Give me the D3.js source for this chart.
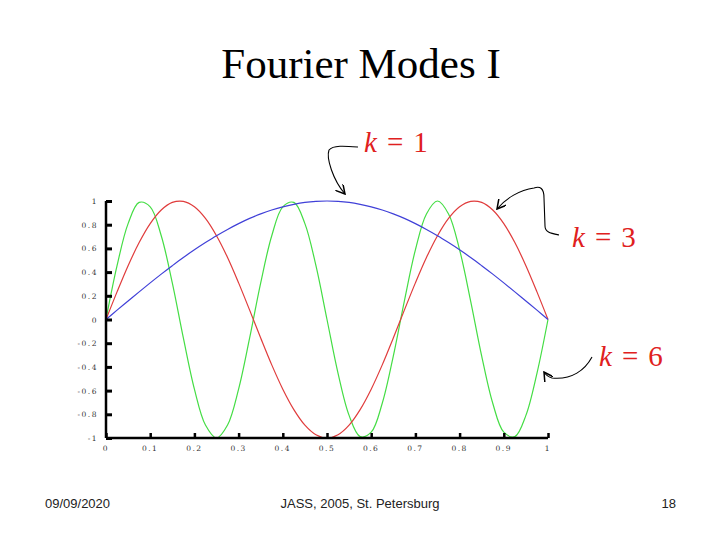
<!DOCTYPE html>
<html>
<head>
<meta charset="utf-8">
<script src="https://cdn.jsdelivr.net/npm/d3@7"></script>
<style>
  body { margin: 0; background: #fff; }
  svg { display: block; }
</style>
</head>
<body>
<svg id="chart" width="720" height="540"></svg>
<script>
// ---- data ----
const xValues = [0, 0.025, 0.05, 0.075, 0.1, 0.125, 0.15, 0.175, 0.2, 0.225, 0.25, 0.275, 0.3, 0.325, 0.35, 0.375, 0.4, 0.425, 0.45, 0.475, 0.5,
  0.525, 0.55, 0.575, 0.6, 0.625, 0.65, 0.675, 0.7, 0.725, 0.75, 0.775, 0.8, 0.825, 0.85, 0.875, 0.9, 0.925, 0.95, 0.975, 1];
const k1Values = [0, 0.079, 0.156, 0.233, 0.309, 0.383, 0.454, 0.523, 0.588, 0.649, 0.707, 0.760, 0.809, 0.853, 0.891, 0.924, 0.951, 0.972, 0.988, 0.997, 1,
  0.997, 0.988, 0.972, 0.951, 0.924, 0.891, 0.853, 0.809, 0.760, 0.707, 0.649, 0.588, 0.523, 0.454, 0.383, 0.309, 0.233, 0.156, 0.079, 0];
const k3Values = [0, 0.233, 0.454, 0.649, 0.809, 0.924, 0.988, 0.997, 0.951, 0.853, 0.707, 0.523, 0.309, 0.079, -0.156, -0.383, -0.588, -0.760, -0.891, -0.972, -1,
  -0.972, -0.891, -0.760, -0.588, -0.383, -0.156, 0.079, 0.309, 0.523, 0.707, 0.853, 0.951, 0.997, 0.988, 0.924, 0.809, 0.649, 0.454, 0.233, 0];
const k6Values = [0, 0.454, 0.809, 0.988, 0.951, 0.707, 0.309, -0.156, -0.588, -0.891, -1, -0.891, -0.588, -0.156, 0.309, 0.707, 0.951, 0.988, 0.809, 0.454, 0,
  -0.454, -0.809, -0.988, -0.951, -0.707, -0.309, 0.156, 0.588, 0.891, 1, 0.891, 0.588, 0.156, -0.309, -0.707, -0.951, -0.988, -0.809, -0.454, 0];
const seriesNames = ["k = 1", "k = 3", "k = 6"];
const xTicks = [0, 0.1, 0.2, 0.3, 0.4, 0.5, 0.6, 0.7, 0.8, 0.9, 1];
const xTickLabels = ["0", "0.1", "0.2", "0.3", "0.4", "0.5", "0.6", "0.7", "0.8", "0.9", "1"];
const yTicks = [-1, -0.8, -0.6, -0.4, -0.2, 0, 0.2, 0.4, 0.6, 0.8, 1];
const yTickLabels = ["-1", "-0.8", "-0.6", "-0.4", "-0.2", "0", "0.2", "0.4", "0.6", "0.8", "1"];
const titleText = "Fourier Modes I";
const footerTexts = ["09/09/2020", "JASS, 2005, St. Petersburg", "18"];

// ---- drawing ----
const svg = d3.select("#chart");
const x = d3.scaleLinear().domain([0, 1]).range([106, 548]);
const y = d3.scaleLinear().domain([-1, 1]).range([438, 201]);

svg.append("text")
  .attr("x", 361).attr("y", 78)
  .attr("text-anchor", "middle")
  .attr("font-family", "'Liberation Serif', 'Times New Roman', serif")
  .attr("font-size", 43)
  .attr("fill", "#000")
  .text(titleText);

const plot = svg.append("g");

// curves
const series = [
  { name: seriesNames[0], values: k1Values, color: "#4040d8" },
  { name: seriesNames[1], values: k3Values, color: "#e03c3c" },
  { name: seriesNames[2], values: k6Values, color: "#44dd44" }
];
const line = d3.line()
  .x((d, i) => x(xValues[i]))
  .y(d => y(d))
  .curve(d3.curveCatmullRom.alpha(0.5));

[series[2], series[1], series[0]].forEach(s => {
  plot.append("path")
    .datum(s.values)
    .attr("d", line)
    .attr("fill", "none")
    .attr("stroke", s.color)
    .attr("stroke-width", 1.2);
});

// y axis
const yAxis = d3.axisRight(y)
  .tickValues(yTicks)
  .tickSize(6)
  .tickFormat("");
const gy = plot.append("g").attr("transform", `translate(${x(0)},0)`).call(yAxis);
gy.select(".domain").attr("stroke", "#000").attr("stroke-width", 2.5).attr("d", `M0,${y(1)}V${y(-1)}`);
gy.selectAll(".tick line").attr("stroke", "#000").attr("stroke-width", 3);
plot.append("g").selectAll("text")
  .data(yTicks)
  .join("text")
  .attr("x", x(0) - 8)
  .attr("y", d => y(d) + 3)
  .attr("text-anchor", "end")
  .attr("font-family", "'DejaVu Serif', serif")
  .attr("font-size", 7.5)
  .attr("letter-spacing", 1.5)
  .attr("fill", "#333")
  .text((d, i) => yTickLabels[i]);

// x axis
const xAxis = d3.axisTop(x)
  .tickValues(xTicks)
  .tickSize(5)
  .tickFormat("");
const gx = plot.append("g").attr("transform", `translate(0,${y(-1)})`).call(xAxis);
gx.select(".domain").attr("stroke", "#000").attr("stroke-width", 2.5).attr("d", `M${x(0)},0H${x(1)}`);
gx.selectAll(".tick line").attr("stroke", "#000").attr("stroke-width", 2.5);
plot.append("g").selectAll("text")
  .data(xTicks)
  .join("text")
  .attr("x", d => x(d))
  .attr("y", y(-1) + 13)
  .attr("text-anchor", "middle")
  .attr("font-family", "'DejaVu Serif', serif")
  .attr("font-size", 7.5)
  .attr("letter-spacing", 1.5)
  .attr("fill", "#333")
  .text((d, i) => xTickLabels[i]);

// annotations (labels)
function kLabel(xp, yp, txt) {
  const parts = txt.split(" = ");
  const t = svg.append("text")
    .attr("x", xp).attr("y", yp)
    .attr("font-family", "'Liberation Serif', 'Times New Roman', serif")
    .attr("font-size", 29)
    .attr("fill", "#e02020");
  t.append("tspan").attr("font-style", "italic").text(parts[0]);
  t.append("tspan").attr("dx", 10).text("=");
  t.append("tspan").attr("dx", 10).text(parts[1]);
}
kLabel(364, 152, seriesNames[0]);
kLabel(572, 247, seriesNames[1]);
kLabel(599, 366, seriesNames[2]);

// arrows
const defs = svg.append("defs");
defs.append("marker")
  .attr("id", "arrow")
  .attr("viewBox", "0 0 10 10")
  .attr("refX", 9).attr("refY", 5)
  .attr("markerWidth", 10).attr("markerHeight", 10)
  .attr("markerUnits", "userSpaceOnUse")
  .attr("orient", "auto")
  .append("path")
  .attr("d", "M0,0 L9,5 L0,10")
  .attr("fill", "none")
  .attr("stroke", "#000")
  .attr("stroke-width", 1.5);

const arrows = [
  "M358,147 C345,146 333,145 329,150 C326,158 333,180 345,194",
  "M559,235 C550,233 545,232 545,226 L544,198 C544,188 540,186 534,188 C520,190 506,198 497,209",
  "M592,357 C585,370 572,380 552,378 C548,377 546,375 544,372"
];
svg.append("g").selectAll("path")
  .data(arrows)
  .join("path")
  .attr("d", d => d)
  .attr("fill", "none")
  .attr("stroke", "#000")
  .attr("stroke-width", 1.1)
  .attr("marker-end", "url(#arrow)");

// footer
const footer = svg.append("g")
  .attr("font-family", "'Liberation Sans', Arial, sans-serif")
  .attr("font-size", 13)
  .attr("fill", "#222");
footer.append("text").attr("x", 45).attr("y", 508).text(footerTexts[0]);
footer.append("text").attr("x", 360).attr("y", 508).attr("text-anchor", "middle").text(footerTexts[1]);
footer.append("text").attr("x", 676).attr("y", 508).attr("text-anchor", "end").text(footerTexts[2]);
</script>
</body>
</html>
